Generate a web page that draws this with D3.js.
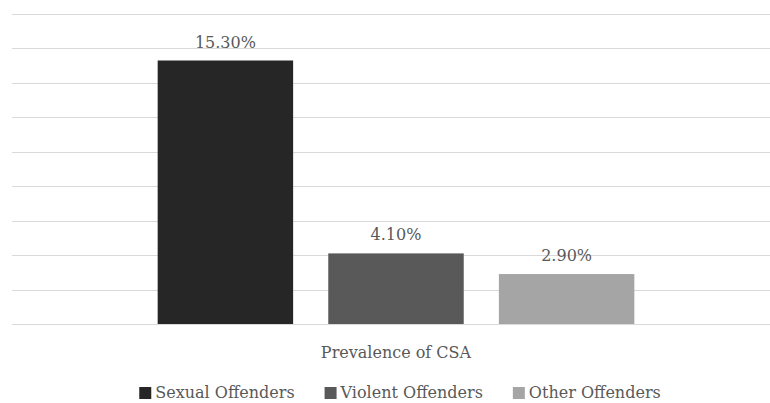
<!DOCTYPE html>
<html>
<head>
<meta charset="utf-8">
<script src="https://cdn.jsdelivr.net/npm/d3@7"></script>
<style>
  body { margin: 0; background: #fff; overflow: hidden; }
  svg { display: block; }
  text { font-family: "Palatino Linotype", "Book Antiqua", Palatino, "DejaVu Serif", serif; fill: #595959; }
</style>
</head>
<body>
<svg width="770" height="403"></svg>
<script>
// data
var categories = ["Prevalence of CSA"];
var seriesNames = ["Sexual Offenders", "Violent Offenders", "Other Offenders"];
var seriesValues = [15.3, 4.1, 2.9];
var seriesColors = ["#262626", "#595959", "#a5a5a5"];
var yTicks = [0, 2, 4, 6, 8, 10, 12, 14, 16, 18];

var svg = d3.select("svg"),
    width = +svg.attr("width"),
    height = +svg.attr("height");

var fontSize = 16;

var y = d3.scaleLinear()
    .domain([0, 18])
    .range([324, 14]);

var x0 = d3.scaleBand()
    .domain(categories)
    .range([12, 780])
    .paddingInner(0)
    .paddingOuter(0.3056);

var x1 = d3.scaleBand()
    .domain(seriesNames)
    .range([0, x0.bandwidth()])
    .paddingInner(0.206)
    .paddingOuter(0);

// gridlines
svg.append("g")
    .selectAll("line")
    .data(yTicks)
    .enter().append("line")
    .attr("x1", 12)
    .attr("x2", 780)
    .attr("y1", d => Math.round(y(d)) + 0.5)
    .attr("y2", d => Math.round(y(d)) + 0.5)
    .attr("stroke", "#d9d9d9")
    .attr("stroke-width", 1);

// bars
var g = svg.append("g")
    .selectAll("g")
    .data(categories)
    .enter().append("g")
    .attr("transform", d => "translate(" + x0(d) + ",0)");

var rows = seriesNames.map((s, i) => ({ name: s, value: seriesValues[i], color: seriesColors[i] }));

g.selectAll("rect")
    .data(rows)
    .enter().append("rect")
    .attr("x", d => x1(d.name))
    .attr("y", d => y(d.value))
    .attr("width", x1.bandwidth())
    .attr("height", d => y(0) - y(d.value))
    .attr("fill", d => d.color);

g.selectAll("text.val")
    .data(rows)
    .enter().append("text")
    .attr("class", "val")
    .attr("x", d => x1(d.name) + x1.bandwidth() / 2)
    .attr("y", d => y(d.value) - 13)
    .attr("text-anchor", "middle")
    .attr("font-size", fontSize)
    .text(d => d.value.toFixed(2) + "%");

// category axis label
svg.append("g")
    .selectAll("text")
    .data(categories)
    .enter().append("text")
    .attr("x", d => x0(d) + x0.bandwidth() / 2)
    .attr("y", 358)
    .attr("text-anchor", "middle")
    .attr("font-size", fontSize)
    .text(d => d);

// legend
var legend = svg.append("g");
var items = legend.selectAll("g")
    .data(rows)
    .enter().append("g");

items.append("rect")
    .attr("width", 12)
    .attr("height", 12)
    .attr("y", 387)
    .attr("fill", d => d.color);

items.append("text")
    .attr("x", 16)
    .attr("y", 398)
    .attr("font-size", fontSize)
    .text(d => d.name);

var xPos = 0;
items.each(function () {
    var w = 16 + d3.select(this).select("text").node().getComputedTextLength();
    d3.select(this).attr("data-x", xPos);
    xPos += w + 30;
});
var total = xPos - 30;
var start = 400 - total / 2;
items.attr("transform", function () {
    return "translate(" + (start + +d3.select(this).attr("data-x")) + ",0)";
});
</script>
</body>
</html>
